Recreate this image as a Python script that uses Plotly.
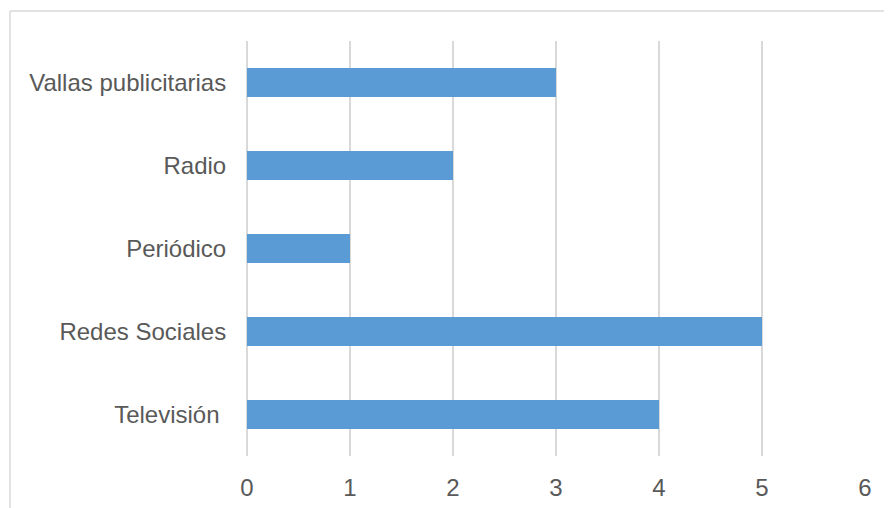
import plotly.graph_objects as go

categories = ["Televisión\u00a0", "Redes Sociales", "Periódico", "Radio", "Vallas publicitarias"]
values = [4, 5, 1, 2, 3]
x_ticks = [0, 1, 2, 3, 4, 5, 6]

# page body has an 8px margin; compensate so the plot lands where the reference has it
W, H = 884, 500
ml, mr, mt, mb = 239, 27, 33, 52
pw, ph = W - ml - mr, H - mt - mb

fig = go.Figure(go.Bar(
    x=values, y=categories, orientation="h",
    marker=dict(color="#5b9bd5", line=dict(width=0)),
    width=0.35, hoverinfo="skip",
))

font_col = "#595959"
fig.update_layout(
    width=W, height=H,
    margin=dict(l=ml, r=mr, t=mt, b=mb, pad=0, autoexpand=False),
    paper_bgcolor="white", plot_bgcolor="white",
    showlegend=False,
    font=dict(family="Liberation Sans, Arial, sans-serif", size=24, color=font_col),
    xaxis=dict(range=[0, 6], tickvals=x_ticks, showgrid=True, gridcolor="#d9d9d9", gridwidth=1.5,
               zeroline=True, zerolinecolor="#d9d9d9", zerolinewidth=1.5, automargin=False,
               ticks="outside", ticklen=10, tickcolor="rgba(0,0,0,0)", showline=False, fixedrange=True),
    yaxis=dict(showgrid=False, zeroline=False, showline=False, ticks="outside", ticklen=15,
               automargin=False, tickcolor="rgba(0,0,0,0)", fixedrange=True),
)

# outer chart border (top and left visible)
bx = (2 - ml) / pw
by = (H - mb - 3) / ph
line = dict(color="#d9d9d9", width=1.5)
fig.add_shape(type="line", xref="paper", yref="paper", x0=bx, y0=by, x1=1.2, y1=by, line=line)
fig.add_shape(type="line", xref="paper", yref="paper", x0=bx, y0=by, x1=bx, y1=-0.3, line=line)

fig.write_html("out.html")
